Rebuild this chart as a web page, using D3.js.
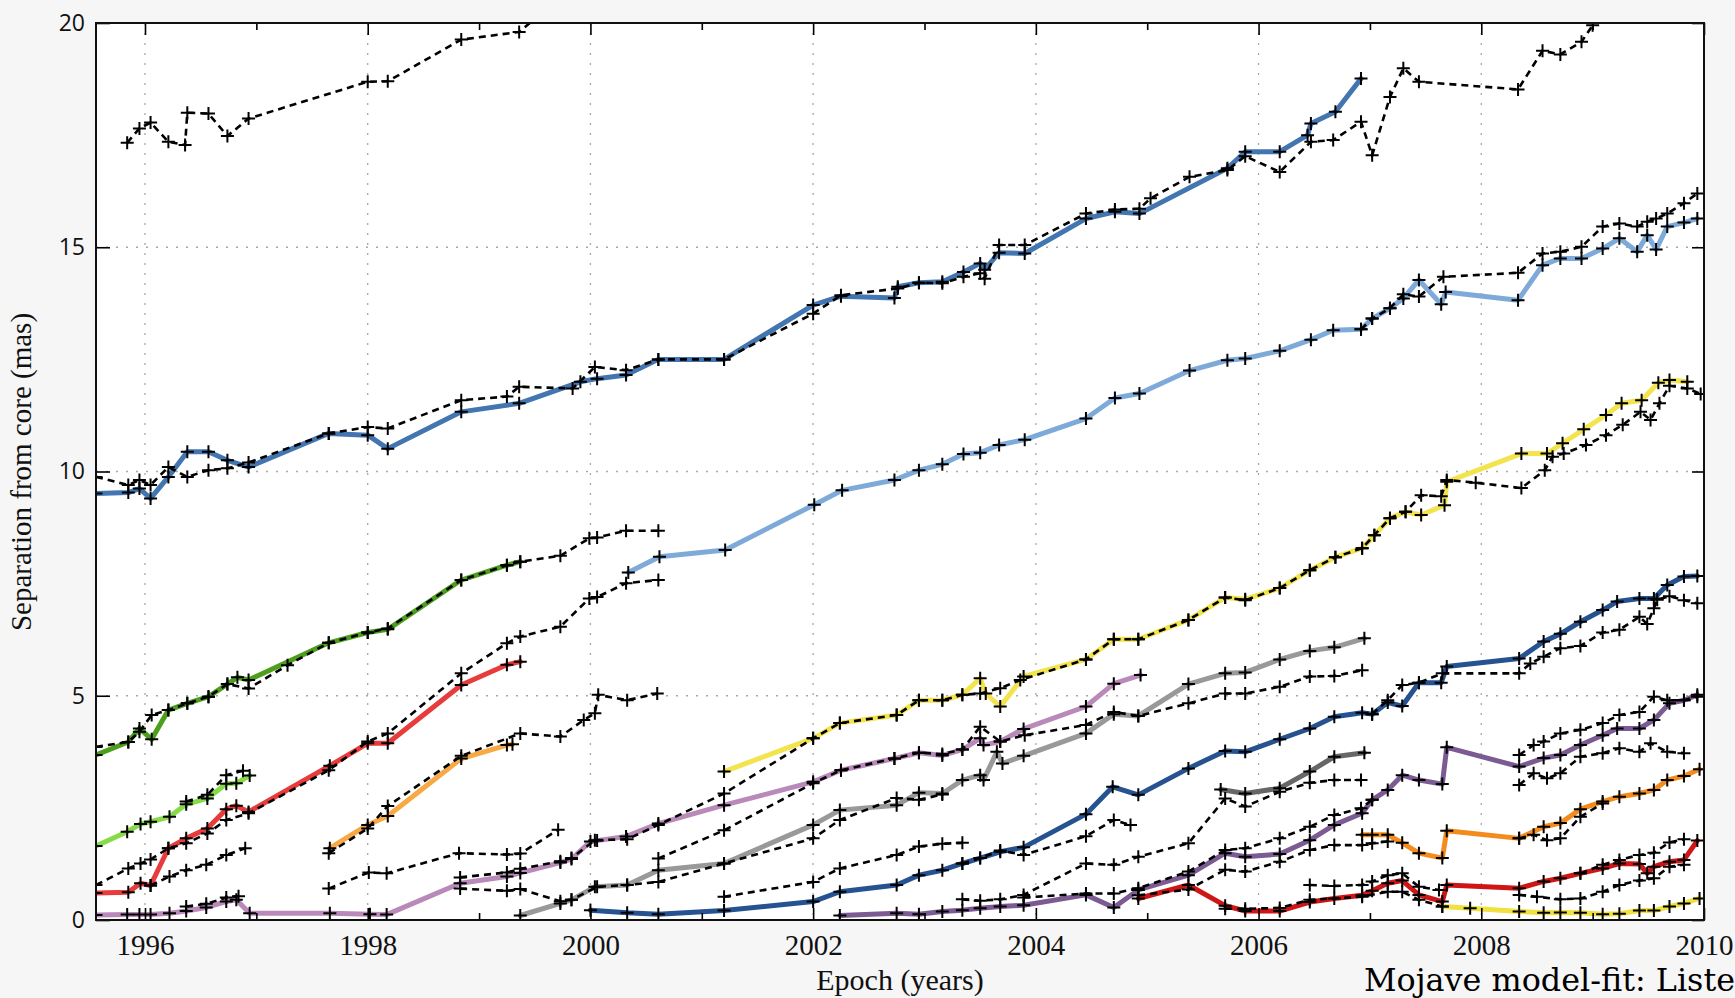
<!DOCTYPE html>
<html>
<head>
<meta charset="utf-8">
<script src="https://cdn.jsdelivr.net/npm/d3@7"></script>
<style>
  body { margin: 0; background: #f6f6f6; overflow: hidden; }
  svg { display: block; }
</style>
</head>
<body>
<svg width="1735" height="998"></svg>
<script>
// ---- data: [epoch (years), separation (mas)] ----
// fitted component tracks (coloured)
const compA = [[1995.56,9.51],[1995.85,9.53],[1995.95,9.62],[1996.05,9.4],[1996.21,9.88],[1996.38,10.44],[1996.57,10.44],[1996.74,10.25],[1996.93,10.1],[1997.65,10.85],[1998.0,10.81],[1998.18,10.51],[1998.84,11.33],[1999.36,11.52],[1999.91,12.0],[2000.06,12.07],[2000.32,12.15],[2000.61,12.5],[2001.2,12.5],[2002.0,13.71],[2002.25,13.91],[2002.73,13.87],[2002.76,14.12],[2002.95,14.21],[2003.16,14.23],[2003.35,14.45],[2003.5,14.64],[2003.54,14.5],[2003.67,14.88],[2003.9,14.86],[2004.45,15.64],[2004.71,15.79],[2004.93,15.75],[2005.72,16.76],[2005.88,17.13],[2006.19,17.13],[2006.44,17.5],[2006.47,17.76],[2006.69,18.02],[2006.92,18.76]];
const compB = [[2000.34,7.75],[2000.62,8.1],[2001.21,8.25],[2002.01,9.26],[2002.26,9.58],[2002.73,9.81],[2002.95,10.03],[2003.16,10.16],[2003.35,10.39],[2003.5,10.42],[2003.67,10.59],[2003.9,10.71],[2004.45,11.18],[2004.71,11.64],[2004.93,11.74],[2005.38,12.25],[2005.72,12.48],[2005.88,12.52],[2006.19,12.69],[2006.47,12.94],[2006.67,13.15],[2006.92,13.17],[2007.02,13.41],[2007.18,13.64],[2007.3,13.86],[2007.44,14.27],[2007.64,13.73],[2007.68,14.0],[2008.33,13.82],[2008.55,14.6],[2008.71,14.75],[2008.9,14.75],[2009.09,14.97],[2009.24,15.2],[2009.4,14.9],[2009.49,15.27],[2009.57,14.95],[2009.67,15.46],[2009.82,15.55],[2009.94,15.64]];
const compG = [[1995.56,3.68],[1995.85,3.97],[1995.95,4.27],[1996.06,4.03],[1996.21,4.68],[1996.38,4.83],[1996.57,4.98],[1996.74,5.26],[1996.83,5.41],[1996.93,5.35],[1997.65,6.18],[1998.0,6.41],[1998.18,6.48],[1998.84,7.58],[1999.25,7.91],[1999.37,7.99]];
const compLG = [[1995.56,1.65],[1995.84,1.97],[1995.96,2.14],[1996.05,2.19],[1996.22,2.3],[1996.37,2.58],[1996.56,2.71],[1996.73,3.04],[1996.82,3.05],[1996.94,3.22]];
const compR = [[1995.56,0.6],[1995.85,0.62],[1995.96,0.82],[1996.05,0.77],[1996.21,1.6],[1996.37,1.82],[1996.56,2.04],[1996.73,2.47],[1996.82,2.55],[1996.93,2.41],[1997.66,3.44],[1998.0,3.94],[1998.18,3.94],[1998.84,5.24],[1999.25,5.69],[1999.37,5.76]];
const compO = [[1997.66,1.6],[1998.0,2.12],[1998.18,2.32],[1998.84,3.6],[1999.25,3.9],[1999.3,3.92]];
const compP1 = [[1995.56,0.11],[1995.84,0.12],[1995.95,0.12],[1996.05,0.12],[1996.22,0.15],[1996.37,0.2],[1996.55,0.28],[1996.73,0.41],[1996.82,0.45],[1996.94,0.15],[1997.66,0.15],[1998.02,0.13],[1998.17,0.12],[1998.83,0.82],[1999.25,0.97],[1999.37,1.05],[1999.73,1.28],[1999.83,1.36],[2000.0,1.75],[2000.06,1.77],[2000.32,1.86],[2000.61,2.15],[2001.2,2.56],[2002.0,3.08],[2002.25,3.34],[2002.73,3.6],[2002.95,3.73],[2003.16,3.67],[2003.34,3.8],[2003.5,4.05],[2003.53,3.9],[2003.68,3.98],[2003.89,4.26],[2004.45,4.76],[2004.7,5.27],[2004.94,5.46]];
const compY = [[2001.2,3.31],[2002.0,4.05],[2002.24,4.39],[2002.75,4.57],[2002.95,4.9],[2003.16,4.9],[2003.34,5.02],[2003.5,5.39],[2003.55,5.05],[2003.68,4.76],[2003.89,5.43],[2004.45,5.81],[2004.7,6.26],[2004.92,6.26],[2005.37,6.69],[2005.7,7.19],[2005.88,7.15],[2006.19,7.4],[2006.46,7.8],[2006.69,8.09],[2006.93,8.29],[2007.04,8.58],[2007.18,8.96],[2007.32,9.1],[2007.46,9.03],[2007.67,9.25],[2007.69,9.77],[2008.36,10.4],[2008.59,10.4],[2008.73,10.63],[2008.92,10.94],[2009.12,11.26],[2009.26,11.52],[2009.44,11.59],[2009.59,11.98],[2009.69,12.04],[2009.85,12.0]];
const compGR1 = [[1999.37,0.1],[1999.73,0.37],[1999.83,0.45],[2000.04,0.74],[2000.33,0.78],[2000.61,1.11],[2001.2,1.26],[2002.0,2.12],[2002.24,2.45],[2002.75,2.56],[2002.95,2.84],[2003.16,2.82],[2003.34,3.12],[2003.5,3.23],[2003.53,3.12],[2003.65,3.75],[2003.7,3.49],[2003.89,3.66],[2004.45,4.16],[2004.7,4.59],[2004.92,4.55],[2005.37,5.26],[2005.7,5.5],[2005.88,5.52],[2006.19,5.81],[2006.46,6.0],[2006.68,6.08],[2006.95,6.28]];
const compGR2 = [[2005.66,2.91],[2005.88,2.82],[2006.19,2.94],[2006.46,3.31],[2006.68,3.64],[2006.95,3.73]];
const compDB = [[2000.0,0.22],[2000.33,0.16],[2000.61,0.13],[2001.2,0.21],[2002.0,0.41],[2002.24,0.63],[2002.75,0.78],[2002.95,1.0],[2003.16,1.11],[2003.34,1.26],[2003.5,1.38],[2003.68,1.52],[2003.89,1.62],[2004.45,2.36],[2004.69,2.97],[2004.92,2.79],[2005.37,3.38],[2005.7,3.77],[2005.88,3.75],[2006.19,4.03],[2006.46,4.27],[2006.68,4.53],[2006.93,4.62],[2007.02,4.59],[2007.16,4.85],[2007.29,4.77],[2007.44,5.29],[2007.64,5.29],[2007.69,5.65],[2008.34,5.83],[2008.56,6.21],[2008.71,6.38],[2008.89,6.65],[2009.09,6.91],[2009.22,7.1],[2009.42,7.17],[2009.55,7.17],[2009.67,7.47],[2009.82,7.66],[2009.94,7.67]];
const compP2 = [[2002.24,0.1],[2002.75,0.15],[2002.95,0.13],[2003.16,0.19],[2003.34,0.22],[2003.5,0.26],[2003.68,0.3],[2003.89,0.33],[2004.45,0.56],[2004.7,0.28],[2004.92,0.67],[2005.37,1.0],[2005.7,1.49],[2005.88,1.41],[2006.19,1.47],[2006.46,1.78],[2006.68,2.12],[2006.93,2.38],[2007.02,2.68],[2007.16,2.9],[2007.29,3.23],[2007.44,3.12],[2007.65,3.03],[2007.69,3.85],[2008.34,3.42],[2008.56,3.61],[2008.71,3.68],[2008.89,3.9],[2009.09,4.12],[2009.22,4.27],[2009.42,4.27],[2009.55,4.46],[2009.69,4.83],[2009.82,4.9],[2009.94,5.02]];
const compR2 = [[2004.92,0.48],[2005.37,0.78],[2005.7,0.32],[2005.88,0.2],[2006.19,0.2],[2006.46,0.4],[2006.68,0.48],[2006.93,0.55],[2007.02,0.65],[2007.16,0.82],[2007.29,0.88],[2007.44,0.56],[2007.65,0.41],[2007.69,0.78],[2008.34,0.71],[2008.56,0.86],[2008.71,0.93],[2008.89,1.04],[2009.09,1.15],[2009.24,1.26],[2009.42,1.25],[2009.49,1.04],[2009.55,1.19],[2009.69,1.3],[2009.82,1.34],[2009.94,1.77]];
const compO2 = [[2006.93,1.9],[2007.02,1.9],[2007.16,1.9],[2007.29,1.72],[2007.44,1.49],[2007.65,1.38],[2007.69,1.99],[2008.34,1.82],[2008.56,2.08],[2008.71,2.16],[2008.89,2.47],[2009.09,2.64],[2009.24,2.75],[2009.42,2.82],[2009.55,2.9],[2009.67,3.12],[2009.82,3.21],[2009.96,3.36]];
const compY2 = [[2007.65,0.3],[2007.9,0.26],[2008.34,0.19],[2008.56,0.16],[2008.71,0.17],[2008.89,0.16],[2009.09,0.13],[2009.24,0.14],[2009.42,0.21],[2009.55,0.21],[2009.69,0.3],[2009.82,0.37],[2009.96,0.48]];

// measured component positions (black dashed)
const dashTop = [[1995.84,17.33],[1995.95,17.65],[1996.05,17.78],[1996.21,17.35],[1996.36,17.28],[1996.38,18.0],[1996.57,17.98],[1996.74,17.48],[1996.93,17.87],[1998.0,18.69],[1998.18,18.7],[1998.84,19.63],[1999.36,19.8],[1999.6,20.3]];
const dashA = [[1995.56,9.88],[1995.85,9.7],[1995.95,9.81],[1996.05,9.7],[1996.21,10.1],[1996.38,9.88],[1996.57,10.03],[1996.74,10.07],[1996.93,10.2],[1997.65,10.85],[1998.0,10.99],[1998.18,10.96],[1998.84,11.59],[1999.25,11.67],[1999.36,11.89],[1999.84,11.85],[2000.04,12.33],[2000.32,12.26],[2000.61,12.5],[2001.2,12.5],[2002.0,13.52],[2002.25,13.93],[2002.76,14.08],[2002.95,14.21],[2003.16,14.2],[2003.35,14.34],[2003.5,14.42],[2003.54,14.3],[2003.67,15.05],[2003.9,15.05],[2004.45,15.75],[2004.71,15.84],[2004.93,15.86],[2005.03,16.09],[2005.38,16.57],[2005.72,16.72],[2005.88,17.03],[2006.19,16.68],[2006.47,17.35],[2006.67,17.39],[2006.92,17.8],[2007.02,17.05],[2007.18,18.35],[2007.3,18.99],[2007.44,18.69],[2008.33,18.52],[2008.55,19.38],[2008.71,19.3],[2008.9,19.58],[2009.0,19.95],[2009.1,20.4]];
const dashB = [[2006.92,13.17],[2007.02,13.41],[2007.18,13.64],[2007.3,13.95],[2007.44,13.9],[2007.66,14.34],[2008.33,14.43],[2008.55,14.86],[2008.71,14.9],[2008.9,15.01],[2009.09,15.46],[2009.24,15.53],[2009.4,15.46],[2009.49,15.57],[2009.57,15.64],[2009.67,15.75],[2009.82,15.98],[2009.94,16.2]];
const dashG = [[1995.56,3.86],[1995.85,3.97],[1995.95,4.2],[1996.06,4.57],[1996.21,4.68],[1996.38,4.83],[1996.57,4.98],[1996.74,5.26],[1996.93,5.16],[1997.28,5.68],[1997.65,6.18],[1998.0,6.41],[1998.18,6.5],[1998.84,7.58],[1999.25,7.91],[1999.37,7.99],[1999.73,8.12],[1999.99,8.51],[2000.06,8.53],[2000.32,8.68],[2000.61,8.68]];
const dashLG = [[1996.37,2.64],[1996.56,2.79],[1996.73,3.23],[1996.88,3.33]];
const dashR = [[1995.56,0.78],[1995.85,1.15],[1995.96,1.26],[1996.05,1.35],[1996.21,1.6],[1996.37,1.71],[1996.56,1.93],[1996.73,2.23],[1996.93,2.38],[1997.65,3.34],[1998.0,3.98],[1998.18,4.16],[1998.84,5.5],[1999.25,6.17],[1999.37,6.32],[1999.73,6.54],[1999.99,7.17],[2000.06,7.2],[2000.32,7.51],[2000.61,7.58]];
const dashRlow = [[1996.05,0.77],[1996.22,0.97],[1996.37,1.11],[1996.55,1.23],[1996.73,1.45],[1996.9,1.6]];
const dashO = [[1997.65,1.49],[1998.0,2.04],[1998.18,2.54],[1998.84,3.66],[1999.37,4.16],[1999.73,4.09],[1999.94,4.46],[2000.04,4.61],[2000.07,5.02],[2000.33,4.9],[2000.6,5.05]];
const dashP1 = [[1996.37,0.3],[1996.55,0.36],[1996.73,0.5],[1996.84,0.53]];
const dashLow = [[1997.65,0.7],[1998.01,1.06],[1998.17,1.04],[1998.82,1.49],[1999.25,1.46],[1999.37,1.48],[1999.71,2.01]];
const dashGR1 = [[1998.83,0.7],[1999.25,0.65],[1999.37,0.69],[1999.73,0.42],[1999.83,0.45],[2000.06,0.74],[2000.33,0.78],[2000.61,0.85],[2001.2,1.26],[2002.0,1.82],[2002.24,2.23],[2002.75,2.72],[2002.95,2.68],[2003.16,2.8]];
const dashY = [[1998.83,0.95],[1999.25,1.06],[1999.37,1.14],[1999.73,1.31],[1999.83,1.38],[2000.04,1.78],[2000.33,1.8],[2000.61,2.12],[2001.2,2.82],[2002.0,4.05],[2002.24,4.39],[2002.75,4.57],[2002.95,4.9],[2003.16,4.9],[2003.34,5.02],[2003.5,5.05],[2003.68,5.17],[2003.86,5.35],[2004.45,5.81],[2004.7,6.26],[2004.92,6.26],[2005.37,6.69],[2005.7,7.19],[2005.88,7.13],[2006.19,7.4],[2006.46,7.8],[2006.69,8.09],[2006.93,8.29],[2007.04,8.58],[2007.18,8.96],[2007.32,9.1],[2007.46,9.47],[2007.64,9.45],[2007.69,9.81],[2007.95,9.75],[2008.36,9.63],[2008.57,10.03],[2008.64,10.33],[2008.74,10.4],[2008.94,10.59],[2009.12,10.81],[2009.27,11.04],[2009.43,11.33],[2009.52,11.15],[2009.6,11.52],[2009.69,11.91],[2009.85,11.85],[2009.97,11.73]];
const dashGR1b = [[2000.61,1.37],[2001.2,2.0],[2002.0,3.05],[2002.25,3.34],[2002.73,3.6],[2002.95,3.73],[2003.16,3.7],[2003.34,3.8],[2003.5,4.31],[2003.68,3.98],[2003.9,4.12],[2004.45,4.35],[2004.7,4.64],[2004.92,4.55],[2005.37,4.83],[2005.7,5.05],[2005.88,5.05],[2006.19,5.2],[2006.46,5.43],[2006.68,5.44],[2006.93,5.57]];
const dashDB1 = [[2001.2,0.52],[2002.0,0.85],[2002.24,1.15],[2002.75,1.45],[2002.95,1.64],[2003.16,1.7],[2003.34,1.72]];
const dashDB2 = [[2003.34,1.26],[2003.5,1.38],[2003.68,1.55],[2003.89,1.45],[2004.45,1.87],[2004.7,2.23],[2004.85,2.12]];
const dashGR2 = [[2003.34,0.46],[2003.5,0.43],[2003.68,0.46],[2003.89,0.56],[2004.45,1.26],[2004.7,1.23],[2004.92,1.41],[2005.37,1.71],[2005.7,2.71],[2005.88,2.53],[2006.19,2.86],[2006.46,3.06],[2006.68,3.12],[2006.92,3.12]];
const dashP2 = [[2003.89,0.5],[2004.45,0.59],[2004.7,0.59],[2004.92,0.71],[2005.37,1.08],[2005.7,1.56],[2005.88,1.6],[2006.19,1.82],[2006.46,2.08],[2006.68,2.34],[2006.92,2.49],[2007.02,2.68]];
const dashR2a = [[2004.92,0.55],[2005.37,0.68],[2005.7,1.12],[2005.88,1.08],[2006.19,1.3],[2006.46,1.56],[2006.68,1.67],[2006.93,1.67],[2007.02,1.71],[2007.16,1.75]];
const dashR2b = [[2006.46,0.78],[2006.68,0.76],[2006.93,0.78],[2007.02,0.86],[2007.16,1.0],[2007.29,1.04],[2007.44,0.74],[2007.62,0.67]];
const dashR2c = [[2005.7,0.25],[2005.88,0.25],[2006.19,0.27],[2006.46,0.45],[2006.93,0.52],[2007.16,0.63],[2007.29,0.63],[2007.44,0.45],[2007.65,0.3]];
const dashR2d = [[2008.89,1.04],[2009.09,1.23],[2009.24,1.34],[2009.42,1.45],[2009.55,1.5],[2009.69,1.73],[2009.82,1.8]];
const dashR2e = [[2008.34,0.56],[2008.5,0.52],[2008.71,0.46],[2008.89,0.48],[2009.09,0.63],[2009.24,0.78],[2009.42,0.88],[2009.55,0.93],[2009.69,1.19],[2009.82,1.23]];
const dashP2b = [[2008.34,3.68],[2008.47,3.9],[2008.56,3.98],[2008.71,4.16],[2008.89,4.24],[2009.09,4.39],[2009.24,4.57],[2009.42,4.64],[2009.55,4.98],[2009.67,4.9],[2009.82,4.9],[2009.94,4.98]];
const dashP2c = [[2008.34,3.01],[2008.47,3.27],[2008.59,3.16],[2008.71,3.27],[2008.89,3.64],[2009.09,3.72],[2009.24,3.83],[2009.42,3.75],[2009.52,3.94],[2009.67,3.75],[2009.82,3.72]];
const dashO2 = [[2008.34,1.82],[2008.47,1.9],[2008.59,1.78],[2008.71,1.82],[2008.89,2.3],[2009.09,2.6]];
const dashDB3 = [[2007.02,4.59],[2007.16,4.9],[2007.29,5.24],[2007.44,5.29],[2007.65,5.5],[2008.34,5.5],[2008.44,5.72],[2008.56,5.87],[2008.71,6.06],[2008.89,6.11],[2009.09,6.41],[2009.24,6.47],[2009.42,6.76],[2009.49,6.6],[2009.55,6.95],[2009.58,7.14],[2009.69,7.22],[2009.82,7.13],[2009.94,7.06]];

const yearTicks = [1996, 1998, 2000, 2002, 2004, 2006, 2008, 2010];
const minorYears = [1997, 1999, 2001, 2003, 2005, 2007, 2009];
const sepTicks = [0, 5, 10, 15, 20];

// colour for each fitted track
const tracks = [
    {data: compA, color: '#4375b1'},
    {data: compB, color: '#7eaad9'},
    {data: compG, color: '#4e9e1e'},
    {data: compLG, color: '#86dc48'},
    {data: compR, color: '#e83b3b'},
    {data: compO, color: '#f6a945'},
    {data: compP1, color: '#b98ab9'},
    {data: compY, color: '#f3e44e'},
    {data: compGR1, color: '#999999'},
    {data: compGR2, color: '#676767'},
    {data: compDB, color: '#26528f'},
    {data: compP2, color: '#7c5b92'},
    {data: compR2, color: '#cf1616'},
    {data: compO2, color: '#f38b1d'},
    {data: compY2, color: '#f1e13f'}
];
const measured = [dashTop, dashA, dashB, dashG, dashLG, dashR, dashRlow, dashO, dashP1, dashLow,
    dashGR1, dashY, dashGR1b, dashDB1, dashDB2, dashGR2, dashP2, dashR2a, dashR2b, dashR2c,
    dashR2d, dashR2e, dashP2b, dashP2c, dashO2, dashDB3];

const plot = {l: 96, r: 1704, t: 23, b: 920};
const svg = d3.select('svg');

const x = d3.scaleLinear().domain([1995.56, 2010]).range([plot.l, plot.r]);
const y = d3.scaleLinear().domain([0, 20]).range([plot.b, plot.t]);

svg.append('rect')
    .attr('x', plot.l).attr('y', plot.t)
    .attr('width', plot.r - plot.l).attr('height', plot.b - plot.t)
    .attr('fill', '#fff');

svg.append('clipPath').attr('id', 'clip')
    .append('rect')
    .attr('x', plot.l).attr('y', plot.t)
    .attr('width', plot.r - plot.l).attr('height', plot.b - plot.t);

// dotted grid
let grid = svg.append('g')
    .attr('stroke', '#a8a8a8')
    .attr('stroke-width', 1.3)
    .attr('stroke-dasharray', '2,8');
grid.selectAll('.gx')
    .data(yearTicks.filter(d => d < 2010))
    .enter().append('line')
        .attr('x1', d => x(d)).attr('x2', d => x(d))
        .attr('y1', plot.t).attr('y2', plot.b);
grid.selectAll('.gy')
    .data(sepTicks.filter(d => d > 0 && d < 20))
    .enter().append('line')
        .attr('y1', d => y(d)).attr('y2', d => y(d))
        .attr('x1', plot.l).attr('x2', plot.r);

let line = d3.line()
    .x(d => x(d[0]))
    .y(d => y(d[1]));

let marks = svg.append('g').attr('clip-path', 'url(#clip)');

marks.selectAll('.track')
    .data(tracks)
    .enter().append('path')
        .classed('track', true)
        .attr('d', d => line(d.data))
        .attr('fill', 'none')
        .attr('stroke', d => d.color)
        .attr('stroke-width', 5)
        .attr('stroke-linejoin', 'round')
        .attr('stroke-linecap', 'round');

marks.selectAll('.meas')
    .data(measured)
    .enter().append('path')
        .classed('meas', true)
        .attr('d', line)
        .attr('fill', 'none')
        .attr('stroke', '#000')
        .attr('stroke-width', 2.6)
        .attr('stroke-dasharray', '7,5');

// black plus markers at every epoch
let allPoints = tracks.map(t => t.data).concat(measured).flat();
marks.selectAll('.plus')
    .data(allPoints)
    .enter().append('path')
        .classed('plus', true)
        .attr('transform', d => `translate(${x(d[0])},${y(d[1])})`)
        .attr('d', 'M-6.5,0H6.5M0,-6.5V6.5')
        .attr('stroke', '#000')
        .attr('stroke-width', 2);

// axes with inward ticks
function styleAxis(g) {
    g.select('.domain').remove();
    g.selectAll('.tick line').attr('stroke', '#000').attr('stroke-width', 1.6);
}

svg.append('g')
    .attr('transform', `translate(0,${plot.b})`)
    .call(d3.axisBottom(x).tickValues(yearTicks).tickSize(-12).tickFormat(d3.format('d')))
    .call(styleAxis)
    .call(g => g.selectAll('text')
        .attr('y', 35).attr('dy', 0)
        .attr('fill', '#111')
        .attr('font-family', '"Liberation Serif", serif')
        .attr('font-size', 29));

svg.append('g')
    .attr('transform', `translate(0,${plot.b})`)
    .call(d3.axisBottom(x).tickValues(minorYears).tickSize(-7).tickFormat(''))
    .call(styleAxis);

svg.append('g')
    .attr('transform', `translate(0,${plot.t})`)
    .call(d3.axisTop(x).tickValues(yearTicks).tickSize(-12).tickFormat(''))
    .call(styleAxis);

svg.append('g')
    .attr('transform', `translate(0,${plot.t})`)
    .call(d3.axisTop(x).tickValues(minorYears).tickSize(-7).tickFormat(''))
    .call(styleAxis);

svg.append('g')
    .attr('transform', `translate(${plot.l},0)`)
    .call(d3.axisLeft(y).tickValues(sepTicks).tickSize(-14).tickPadding(11))
    .call(styleAxis)
    .call(g => g.selectAll('text')
        .attr('fill', '#111')
        .attr('font-family', '"Open Sans", sans-serif')
        .attr('font-size', 23));

svg.append('g')
    .attr('transform', `translate(${plot.r},0)`)
    .call(d3.axisRight(y).tickValues(sepTicks).tickSize(-12).tickFormat(''))
    .call(styleAxis);

svg.append('rect')
    .attr('x', plot.l).attr('y', plot.t)
    .attr('width', plot.r - plot.l).attr('height', plot.b - plot.t)
    .attr('fill', 'none')
    .attr('stroke', '#111')
    .attr('stroke-width', 2);

svg.append('text')
    .attr('x', 900).attr('y', 990)
    .attr('text-anchor', 'middle')
    .attr('font-family', '"Liberation Serif", serif')
    .attr('font-size', 30)
    .attr('fill', '#111')
    .text('Epoch (years)');

svg.append('text')
    .attr('transform', 'translate(31,472) rotate(-90)')
    .attr('text-anchor', 'middle')
    .attr('font-family', '"Liberation Serif", serif')
    .attr('font-size', 29)
    .attr('fill', '#111')
    .text('Separation from core (mas)');

svg.append('text')
    .attr('x', 1364).attr('y', 991)
    .attr('font-family', '"DejaVu Serif", serif')
    .attr('font-size', 31)
    .attr('textLength', 371)
    .attr('lengthAdjust', 'spacingAndGlyphs')
    .attr('fill', '#000')
    .text('Mojave model-fit: Liste');
</script>
</body>
</html>
